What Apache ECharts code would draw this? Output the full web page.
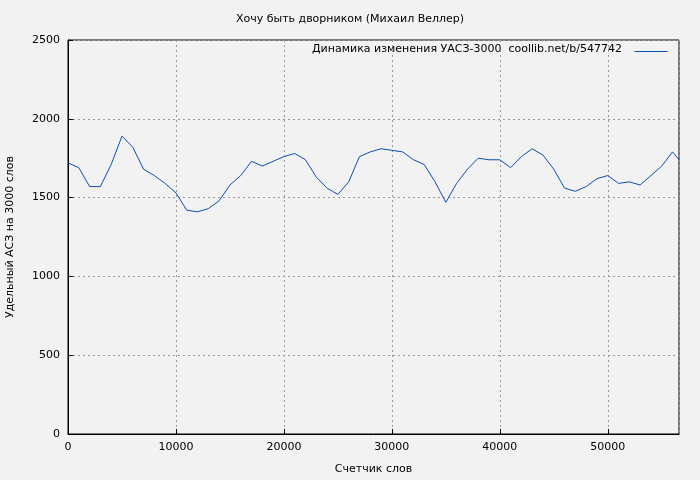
<!DOCTYPE html>
<html><head><meta charset="utf-8">
<script src="https://cdn.jsdelivr.net/npm/echarts@6/dist/echarts.min.js"></script>
<style>html,body{margin:0;padding:0;background:#f2f2f2}#c{width:700px;height:480px}</style>
</head><body><div id="c"></div>
<script>
var words = [0,1000,2000,3000,4000,5000,6000,7000,8000,9000,10000,11000,12000,13000,14000,15000,16000,17000,18000,19000,20000,21000,22000,23000,24000,25000,26000,27000,28000,29000,30000,31000,32000,33000,34000,35000,36000,37000,38000,39000,40000,41000,42000,43000,44000,45000,46000,47000,48000,49000,50000,51000,52000,53000,54000,55000,56000,56600];
var values = [1720,1690,1570,1570,1710,1890,1820,1680,1640,1590,1530,1420,1410,1430,1480,1580,1640,1730,1700,1730,1760,1780,1740,1630,1560,1520,1600,1760,1790,1810,1800,1790,1740,1710,1600,1470,1590,1680,1750,1740,1740,1690,1760,1810,1770,1680,1560,1540,1570,1620,1640,1590,1600,1580,1640,1700,1790,1740];
var seriesName = 'Динамика изменения УАСЗ-3000  coollib.net/b/547742';

var chart = echarts.init(document.getElementById('c'));
var pts = words.map(function (w, i) { return [w, values[i]]; });
var font = 'DejaVu Sans';
var lineColor = '#0b4fb4';
chart.setOption({
    backgroundColor: '#f2f2f2',
    animation: false,
    textStyle: { fontFamily: font },
    title: {
        text: 'Хочу быть дворником (Михаил Веллер)',
        left: 'center', top: 9,
        textStyle: { fontSize: 11, fontWeight: 'normal', color: '#000', fontFamily: font }
    },
    // legend drawn by hand: text then line sample on the right
    graphic: [
        { type: 'text', right: 78, top: 44, style: { text: seriesName, font: '11px ' + font, fill: '#000' } },
        { type: 'line', left: 632, top: 49, shape: { x1: 0, y1: 0, x2: 33, y2: 0 }, style: { stroke: lineColor, lineWidth: 1 } }
    ],
    grid: { left: 68, right: 21, top: 40, bottom: 46, outerBoundsMode: 'none', containLabel: false,
        show: true, borderColor: '#000', borderWidth: 1, backgroundColor: 'transparent' },
    xAxis: {
        type: 'value', min: 0, max: 56600, interval: 10000,
        name: 'Счетчик слов', nameLocation: 'middle', nameGap: 30,
        nameTextStyle: { fontSize: 11, color: '#000' },
        axisLine: { lineStyle: { color: '#000' } },
        axisTick: { inside: true, length: 5, lineStyle: { color: '#000' } },
        axisLabel: { fontSize: 11, color: '#000', showMaxLabel: false, formatter: function (v) { return String(v); } },
        splitLine: { lineStyle: { type: [2, 3], color: '#999' } }
    },
    yAxis: {
        type: 'value', min: 0, max: 2500, interval: 500,
        name: 'Удельный АСЗ на 3000 слов', nameLocation: 'middle', nameGap: 52,
        nameTextStyle: { fontSize: 11, color: '#000' },
        axisLine: { show: true, lineStyle: { color: '#000' } },
        axisTick: { show: true, inside: true, length: 5, lineStyle: { color: '#000' } },
        axisLabel: { fontSize: 11, color: '#000', formatter: function (v) { return String(v); } },
        splitLine: { lineStyle: { type: [2, 3], color: '#999' } }
    },
    series: [{
        name: seriesName, type: 'line', data: pts, symbol: 'none',
        lineStyle: { color: lineColor, width: 1 }, itemStyle: { color: lineColor }
    }]
});
</script></body></html>
